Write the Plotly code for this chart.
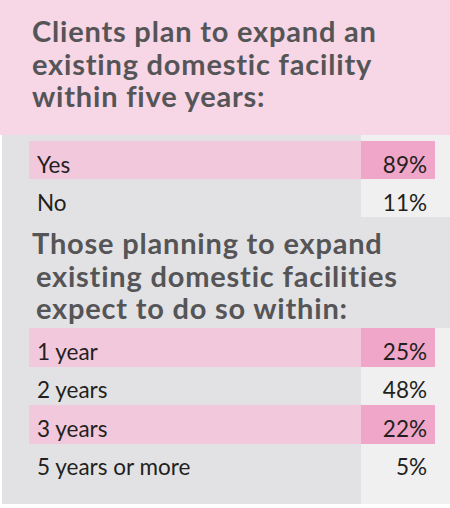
import plotly.graph_objects as go

W, H = 450, 508

title_1 = ["Clients plan to expand an", "existing domestic facility", "within five years:"]
title_2 = ["Those planning to expand", " existing domestic facilities", " expect to do so within:"]

q1_labels = ["Yes", "No"]
q1_values = [89, 11]

q2_labels = ["1 year", "2 years", "3 years", "5 years or more"]
q2_values = [25, 48, 22, 5]

PINK_BAND = "#f7d6e6"
PINK_ROW = "#f2c8dc"
PINK_VAL = "#f0a6c8"
GREY = "#e2e2e4"
LIGHT = "#f0f0f0"
TITLE_COL = "#555557"
TEXT_COL = "#231f20"
CLEAR = "rgba(0,0,0,0)"

EMPTY_HEADER = 16  # plotly keeps a 16px header even with no header values
TEXT_DROP = 7      # table text sits high in its cell, so the text layer is nudged down


def px(x):
    return x / W


def py(y):
    return 1 - y / H


def table(labels, values, top, row_h, with_text):
    n = len(labels)
    if with_text:
        vals = [labels, [f"{v}%" for v in values]]
        fills = [[CLEAR] * n, [CLEAR] * n]
        top += TEXT_DROP
    else:
        vals = [[""] * n, [""] * n]
        fills = [[PINK_ROW if i % 2 == 0 else GREY for i in range(n)],
                 [PINK_VAL if i % 2 == 0 else LIGHT for i in range(n)]]
    return go.Table(
        domain=dict(x=[px(29), px(435)], y=[py(top + n * row_h), py(top - EMPTY_HEADER)]),
        columnwidth=[332, 74],
        header=dict(values=[], height=0, fill_color=CLEAR, line_width=0),
        cells=dict(
            values=vals,
            fill_color=fills,
            line=dict(color=CLEAR, width=0),
            align=["left", "right"],
            height=row_h,
            font=dict(family="Lato", size=22.5, color=TEXT_COL),
        ),
    )


fig = go.Figure()
for labels, values, top, row_h in [(q1_labels, q1_values, 141, 38),
                                   (q2_labels, q2_values, 328, 38.5)]:
    fig.add_trace(table(labels, values, top, row_h, False))
    fig.add_trace(table(labels, values, top, row_h, True))

shapes = [
    dict(x0=0, x1=1, y0=py(135), y1=1, fillcolor=PINK_BAND),
    dict(x0=px(2), x1=1, y0=py(504), y1=py(135), fillcolor=GREY),
    dict(x0=px(361), x1=1, y0=py(217), y1=py(135), fillcolor=LIGHT),
    dict(x0=px(361), x1=1, y0=py(504), y1=py(328), fillcolor=LIGHT),
]
for s in shapes:
    fig.add_shape(type="rect", xref="paper", yref="paper", line_width=0, layer="below", **s)


def title_text(lines):
    # base size 25 gives ~32.5px line spacing, glyphs drawn at 29px;
    # a leading space becomes a small indent
    out = []
    for l in lines:
        lead = ""
        if l.startswith(" "):
            lead = "<span style='font-size:16px'>\u00a0</span>"
            l = l[1:]
        out.append(f"{lead}<span style='font-size:29px;letter-spacing:0.8px'>{l}</span>")
    return "<br>".join(out)


fig.add_annotation(text=title_text(title_1), x=px(30), y=py(11))
fig.add_annotation(text=title_text(title_2), x=px(30), y=py(223))
fig.update_annotations(xref="paper", yref="paper", xanchor="left", yanchor="top",
                       align="left", showarrow=False,
                       font=dict(family="Lato", size=25, color=TITLE_COL, weight="bold"))

fig.update_layout(
    width=W, height=H,
    margin=dict(l=0, r=0, t=0, b=0),
    paper_bgcolor="white",
    plot_bgcolor="white",
    showlegend=False,
)

fig.write_html("out.html", config={"displayModeBar": False},
               post_script="document.body.style.margin='0';")
